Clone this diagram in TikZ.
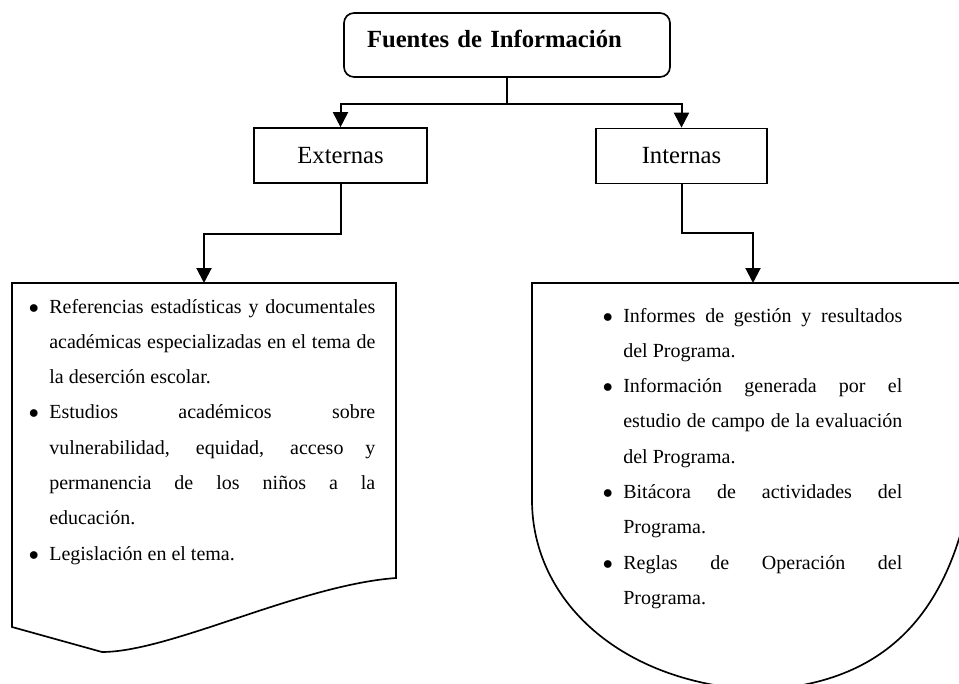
\documentclass[tikz,border=0pt]{standalone}
\usepackage{fontspec}
\setmainfont{Liberation Serif}
\usepackage{tikz}
\usetikzlibrary{arrows.meta}

\hbadness=10000
\setlength{\parindent}{0pt}
\newcommand{\fitem}[1]{\leavevmode\hangindent=13.2pt\hangafter=0\llap{$\bullet$\hskip6.3pt}#1\par}

\begin{document}
\begin{tikzpicture}[x=0.6pt, y=-0.6pt,
        marco/.style={line width=1pt},
        caja/.style={draw, line width=1pt, minimum height=33pt, inner sep=0pt, font=\fontsize{14.8}{17}\selectfont},
        flecha/.style={line width=1.2pt, -{Triangle[length=9pt,width=9pt]}},
        lista/.style={anchor=base west, inner sep=0pt, align=justify, font=\fontsize{12}{21.2}\selectfont}]
        \useasboundingbox (0,0) rectangle (959,684);

        \node[caja, rounded corners=6pt, minimum width=195.6pt, minimum height=38.4pt, inner xsep=13.8pt,
              text width=168pt, align=left, text height=11pt, text depth=7.4pt,
              font=\fontsize{14.8}{17}\selectfont\bfseries] (title) at (507,45) {Fuentes de Información};
        \node[caja, minimum width=103.8pt] (ext) at (340.5,155.5) {Externas};
        \node[caja, minimum width=102.6pt] (int) at (681.5,156) {Internas};
        \draw[flecha] (title.south) -- ++(0,26) -| (ext);
        \draw[flecha] (title.south) -- ++(0,26) -| (int);

        \coordinate (extin) at (204,283);
        \coordinate (intin) at (753,283);
        \draw[flecha] (ext.south) -- ++(0,50) -| (extin);
        \draw[flecha] (int.south) -- ++(0,49) -| (intin);

        \draw[marco] (12,283) -- (396,283) -- (396,578) .. controls (300,585) and (170,652) .. (102,652) -- (12,627) -- cycle;
        \begin{scope}
          \clip (0,0) rectangle (959,684);
          \draw[marco] (978,283) -- (532,283) -- (532,500) .. controls (532,600) and (620,684) .. (760,690)
              .. controls (880,684) and (965,620) .. (978,430) -- cycle;
        \end{scope}

        \node[lista, text width=208.8pt] (extlist) at (27,313) {%
          \fitem{Referencias estadísticas y documentales\linebreak académicas especializadas en el tema de\linebreak la deserción escolar.}
          \fitem{Estudios académicos sobre\linebreak vulnerabilidad, equidad, acceso y\linebreak permanencia de los niños a la\linebreak educación.}
          \fitem{Legislación en el tema.}};
        \node[lista, text width=180.6pt] (intlist) at (601,322) {%
          \fitem{Informes de gestión y resultados\linebreak del Programa.}
          \fitem{Información generada por el\linebreak estudio de campo de la evaluación\linebreak del Programa.}
          \fitem{Bitácora de actividades del\linebreak Programa.}
          \fitem{Reglas de Operación del\linebreak Programa.}};
\end{tikzpicture}
\end{document}
